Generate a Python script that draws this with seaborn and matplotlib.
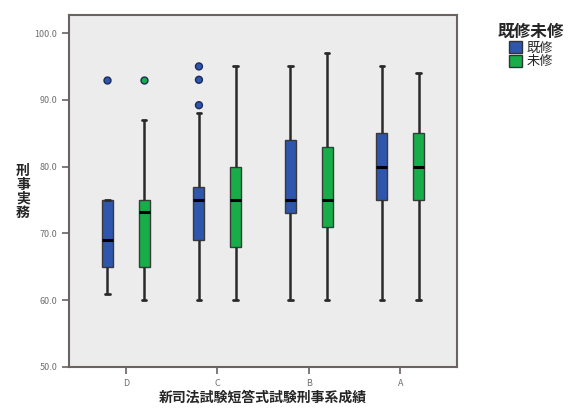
import matplotlib

matplotlib.use("Agg")
import matplotlib.pyplot as plt
import pandas as pd
import seaborn as sns
from matplotlib.patches import Patch

# categories on the x axis and the two hue groups
categories = ["D", "C", "B", "A"]
groups = ["既修", "未修"]

# five-number summaries, order: D既修, D未修, C既修, C未修, ...
box_category = ["D", "D", "C", "C", "B", "B", "A", "A"]
box_group = ["既修", "未修", "既修", "未修", "既修", "未修", "既修", "未修"]
whisker_low = [61, 60, 60, 60, 60, 60, 60, 60]
quartile_1 = [65, 65, 69, 68, 73, 71, 75, 75]
median = [69, 73.2, 75, 75, 75, 75, 80, 80]
quartile_3 = [75, 75, 77, 80, 84, 83, 85, 85]
whisker_high = [75, 87, 88, 95, 95, 97, 95, 94]

# outliers
outlier_category = ["D", "D", "C", "C", "C"]
outlier_group = ["既修", "未修", "既修", "既修", "既修"]
outlier_value = [93, 93, 89.2, 93, 95]

y_ticks = [50, 60, 70, 80, 90, 100]

palette = {"既修": "#2d56ac", "未修": "#17ae4a"}

# long-form table: one row per summary value, drawn with whis=(0, 100)
rows = []
for i in range(len(box_category)):
    for v in (whisker_low[i], quartile_1[i], median[i], quartile_3[i], whisker_high[i]):
        rows.append({"grade": box_category[i], "group": box_group[i], "score": v})
df_box = pd.DataFrame(rows)

df_out = pd.DataFrame(
    {"grade": outlier_category, "group": outlier_group, "score": outlier_value}
)

sns.set_theme(style="white")
plt.rcParams["font.family"] = ["Noto Sans CJK JP", "DejaVu Sans"]

fig = plt.figure(figsize=(5.77, 4.09), dpi=100)
ax = fig.add_axes([69 / 577, 42 / 409, 388 / 577, 352 / 409])
ax.set_facecolor("#ececec")

sns.boxplot(
    data=df_box,
    x="grade",
    y="score",
    hue="group",
    order=categories,
    hue_order=groups,
    palette=palette,
    saturation=1,
    whis=(0, 100),
    width=0.8,
    gap=0.7,
    linecolor="#3a3a3a",
    linewidth=1.0,
    showfliers=False,
    medianprops={"color": "black", "linewidth": 2.2},
    whiskerprops={"color": "#2a2a2a", "linewidth": 1.8},
    capprops={"color": "#2a2a2a", "linewidth": 2.0},
    legend=False,
    ax=ax,
)

# short caps like the original
for cont in ax.containers:
    for cap in getattr(cont, "caps", []):
        xs = cap.get_xdata()
        mid = (xs[0] + xs[1]) / 2
        cap.set_xdata([mid - 0.025, mid + 0.025])

sns.stripplot(
    data=df_out,
    x="grade",
    y="score",
    hue="group",
    order=categories,
    hue_order=groups,
    palette=palette,
    dodge=True,
    jitter=False,
    size=5,
    linewidth=1.0,
    edgecolor="#1e2a5a",
    legend=False,
    ax=ax,
)

ax.set_xlim(-0.62, 3.62)
ax.set_ylim(50, 102.7)
ax.set_yticks(y_ticks)
ax.set_yticklabels([f"{t:.1f}" for t in y_ticks])
ax.set_xlabel("")
ax.set_ylabel("")
ax.tick_params(
    axis="both",
    which="both",
    direction="out",
    length=5,
    width=1.2,
    color="#6b6262",
    labelsize=6.5,
    labelcolor="#707070",
    left=True,
    bottom=True,
)
for spine in ax.spines.values():
    spine.set_color("#6b6262")
    spine.set_linewidth(1.5)

# axis titles
fig.text(
    23 / 577,
    1 - 192 / 409,
    "刑\n事\n実\n務",
    ha="center",
    va="center",
    fontsize=10,
    fontweight="bold",
    linespacing=1.0,
)
fig.text(
    263 / 577,
    1 - 398 / 409,
    "新司法試験短答式試験刑事系成績",
    ha="center",
    va="center",
    fontsize=10,
    fontweight="bold",
)

handles = [Patch(facecolor=palette[g], edgecolor="#333333", label=g) for g in groups]
leg = fig.legend(
    handles=handles,
    title="既修未修",
    loc="upper center",
    bbox_to_anchor=(531 / 577, 1 - 17 / 409),
    frameon=False,
    fontsize=9.5,
    title_fontproperties={"weight": "bold", "size": 12},
    handlelength=1.0,
    handleheight=1.0,
    handletextpad=0.3,
    labelspacing=0.05,
    borderaxespad=0,
)

fig.savefig("out.png", dpi=100, facecolor="white")
